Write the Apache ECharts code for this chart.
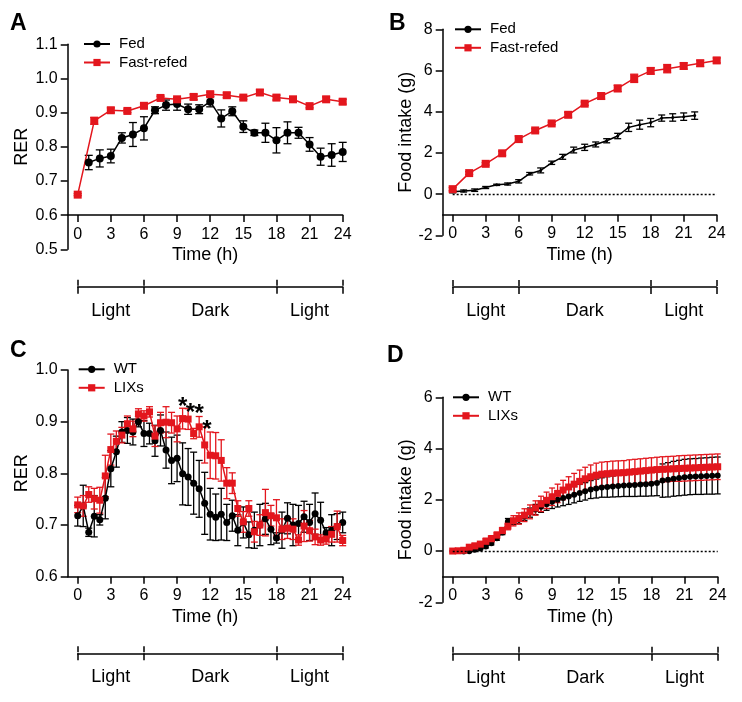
<!DOCTYPE html>
<html>
<head>
<meta charset="utf-8">
<script src="https://cdn.jsdelivr.net/npm/echarts@6/dist/echarts.min.js"></script>
<style>
  html, body { margin: 0; padding: 0; background: #fff; }
  #chart { width: 742px; height: 702px; }
</style>
</head>
<body>
<div id="chart"></div>
<script>
  const FONT = "Liberation Sans"
  const RED = "#e3161d"

  // tick / label values
  const timeTicks = [0, 3, 6, 9, 12, 15, 18, 21, 24]
  const ldTicks = [0, 6, 18, 24]
  const ldLabelHours = [3, 12, 21]
  const ldLabelNames = ["Light", "Dark", "Light"]

  // panel A: RER, fed vs fast-refed
  const hoursFedA = [1, 2, 3, 4, 5, 6, 7, 8, 9, 10, 11, 12, 13, 14, 15, 16, 17, 18, 19, 20, 21, 22, 23, 24]
  const rerFedA = [0.754, 0.766, 0.773, 0.826, 0.836, 0.854, 0.907, 0.922, 0.925, 0.910, 0.910, 0.932,
    0.883, 0.904, 0.859, 0.841, 0.841, 0.819, 0.841, 0.841, 0.807, 0.771, 0.776, 0.785]
  const rerFedErrA = [0.021, 0.025, 0.02, 0.015, 0.035, 0.034, 0.01, 0.015, 0.018, 0.015, 0.013, 0.015,
    0.025, 0.013, 0.017, 0.008, 0.028, 0.037, 0.032, 0.016, 0.02, 0.025, 0.033, 0.028]
  const hoursRefed = [0, 1.5, 3, 4.5, 6, 7.5, 9, 10.5, 12, 13.5, 15, 16.5, 18, 19.5, 21, 22.5, 24]
  const rerRefedA = [0.660, 0.876, 0.907, 0.905, 0.920, 0.943, 0.939, 0.946, 0.954, 0.951, 0.944, 0.959,
    0.944, 0.939, 0.919, 0.939, 0.932]
  const rerRefedErrA = [0.003, 0.01, 0.007, 0.005, 0.007, 0.005, 0.005, 0.008, 0.006, 0.007, 0.005, 0.008,
    0.007, 0.005, 0.005, 0.007, 0.007]

  // panel B: food intake, fed vs fast-refed
  const hoursFedB = [0, 1, 2, 3, 4, 5, 6, 7, 8, 9, 10, 11, 12, 13, 14, 15, 16, 17, 18, 19, 20, 21, 22]
  const intakeFedB = [0.11, 0.15, 0.19, 0.32, 0.45, 0.49, 0.62, 0.99, 1.15, 1.52, 1.81, 2.14, 2.27,
    2.41, 2.59, 2.82, 3.24, 3.37, 3.47, 3.69, 3.72, 3.76, 3.81]
  const intakeFedErrB = [0.05, 0.05, 0.06, 0.05, 0.03, 0.05, 0.08, 0.06, 0.12, 0.08, 0.12, 0.14, 0.15,
    0.12, 0.1, 0.13, 0.2, 0.22, 0.2, 0.15, 0.18, 0.18, 0.18]
  const intakeRefedB = [0.24, 1.02, 1.47, 1.98, 2.67, 3.09, 3.43, 3.85, 4.39, 4.76, 5.13, 5.62, 5.98,
    6.09, 6.22, 6.35, 6.49]
  const intakeRefedErrB = [0.08, 0.07, 0.06, 0.1, 0.15, 0.08, 0.06, 0.12, 0.08, 0.15, 0.15, 0.2, 0.15,
    0.2, 0.15, 0.15, 0.12]

  // panels C and D: half-hourly WT vs LIXs
  const halfHours = [0, 0.5, 1, 1.5, 2, 2.5, 3, 3.5, 4, 4.5, 5, 5.5, 6, 6.5, 7, 7.5, 8, 8.5, 9, 9.5,
    10, 10.5, 11, 11.5, 12, 12.5, 13, 13.5, 14, 14.5, 15, 15.5, 16, 16.5, 17, 17.5, 18, 18.5, 19, 19.5,
    20, 20.5, 21, 21.5, 22, 22.5, 23, 23.5, 24]
  const rerWT = [0.718, 0.737, 0.686, 0.717, 0.710, 0.752, 0.809, 0.842, 0.880, 0.883,
    0.880, 0.900, 0.877, 0.877, 0.863, 0.883, 0.845, 0.825, 0.829, 0.799,
    0.793, 0.781, 0.770, 0.742, 0.721, 0.715, 0.721, 0.705, 0.718, 0.690,
    0.705, 0.681, 0.690, 0.700, 0.712, 0.692, 0.675, 0.690, 0.713, 0.700,
    0.703, 0.716, 0.705, 0.722, 0.709, 0.685, 0.690, 0.697, 0.705]
  const rerWTErr = [0.02, 0.04, 0.008, 0.04, 0.01, 0.04, 0.035, 0.03, 0.02, 0.025,
    0.025, 0.01, 0.025, 0.02, 0.03, 0.03, 0.035, 0.045, 0.045, 0.06,
    0.055, 0.06, 0.055, 0.06, 0.05, 0.045, 0.05, 0.035, 0.03, 0.03,
    0.03, 0.025, 0.035, 0.04, 0.03, 0.03, 0.01, 0.035, 0.03, 0.04,
    0.035, 0.03, 0.035, 0.04, 0.035, 0.01, 0.03, 0.025, 0.02]
  const rerLIX = [0.739, 0.737, 0.759, 0.751, 0.748, 0.795, 0.846, 0.862, 0.874, 0.896,
    0.886, 0.915, 0.911, 0.919, 0.872, 0.898, 0.899, 0.898, 0.886, 0.906,
    0.905, 0.877, 0.890, 0.855, 0.835, 0.834, 0.825, 0.781, 0.781, 0.732,
    0.706, 0.732, 0.687, 0.700, 0.724, 0.718, 0.714, 0.692, 0.694, 0.692,
    0.671, 0.698, 0.689, 0.677, 0.671, 0.673, 0.682, 0.697, 0.670]
  const rerLIXErr = [0.015, 0.02, 0.015, 0.02, 0.025, 0.04, 0.03, 0.02, 0.015, 0.015,
    0.015, 0.01, 0.01, 0.01, 0.02, 0.02, 0.03, 0.02, 0.025, 0.02,
    0.02, 0.01, 0.02, 0.035, 0.045, 0.045, 0.04, 0.03, 0.02, 0.015,
    0.02, 0.015, 0.02, 0.02, 0.045, 0.02, 0.035, 0.02, 0.02, 0.02,
    0.01, 0.03, 0.02, 0.015, 0.01, 0.01, 0.015, 0.03, 0.01]
  const starHours = [9.5, 10.2, 11.0, 11.7]
  const starRER = [0.94, 0.927, 0.926, 0.894]

  const intakeWT = [0, 0, -0.02, -0.01, 0.05, 0.1, 0.18, 0.3, 0.5, 0.72,
    1.15, 1.15, 1.22, 1.35, 1.5, 1.62, 1.73, 1.83, 1.92, 2.0,
    2.07, 2.13, 2.2, 2.27, 2.33, 2.4, 2.44, 2.48, 2.5, 2.52,
    2.54, 2.56, 2.57, 2.58, 2.6, 2.61, 2.63, 2.66, 2.75, 2.78,
    2.82, 2.85, 2.88, 2.9, 2.91, 2.92, 2.93, 2.94, 2.95]
  const intakeWTErr = [0.02, 0.02, 0.03, 0.04, 0.05, 0.05, 0.06, 0.06, 0.08, 0.08,
    0.12, 0.12, 0.15, 0.15, 0.18, 0.2, 0.22, 0.24, 0.26, 0.28,
    0.3, 0.31, 0.32, 0.33, 0.34, 0.35, 0.37, 0.38, 0.4, 0.41,
    0.42, 0.43, 0.44, 0.45, 0.46, 0.47, 0.48, 0.5, 0.65, 0.67,
    0.68, 0.69, 0.7, 0.7, 0.7, 0.71, 0.71, 0.72, 0.72]
  const intakeLIX = [0, 0.01, 0.03, 0.15, 0.2, 0.27, 0.38, 0.48, 0.62, 0.8,
    0.97, 1.18, 1.27, 1.4, 1.53, 1.68, 1.84, 1.98, 2.12, 2.25,
    2.38, 2.5, 2.61, 2.72, 2.82, 2.9, 2.96, 3.0, 3.02, 3.04,
    3.05, 3.06, 3.08, 3.1, 3.12, 3.14, 3.16, 3.18, 3.19, 3.2,
    3.21, 3.22, 3.23, 3.24, 3.25, 3.26, 3.27, 3.28, 3.29]
  const intakeLIXErr = [0.03, 0.03, 0.04, 0.08, 0.1, 0.1, 0.12, 0.12, 0.12, 0.12,
    0.14, 0.2, 0.22, 0.25, 0.27, 0.28, 0.3, 0.32, 0.34, 0.36,
    0.38, 0.4, 0.42, 0.44, 0.45, 0.46, 0.47, 0.47, 0.47, 0.47,
    0.47, 0.47, 0.48, 0.48, 0.48, 0.48, 0.48, 0.48, 0.49, 0.49,
    0.49, 0.5, 0.5, 0.5, 0.5, 0.5, 0.5, 0.5, 0.5]

  const pts = (xs, ys) => xs.map((x, i) => [x, ys[i]])
  const errPts = (xs, ys, es) => xs.map((x, i) => [x, ys[i], es[i]])
  const txt = {color: "#000", fontFamily: FONT}
  const axisLine = {color: "#000", width: 1.5}

  function errSeries(name, idx, data, color, cap) {
    return {
      type: "custom", name: name, xAxisIndex: idx, yAxisIndex: idx, data: data, silent: true,
      encode: {x: 0, y: 1},
      renderItem: function (params, api) {
        let x = api.value(0), y = api.value(1), e = api.value(2)
        let hi = api.coord([x, y + e]), lo = api.coord([x, y - e])
        let s = {stroke: color, lineWidth: 1.3}
        return {
          type: "group", children: [
            {type: "line", shape: {x1: hi[0], y1: hi[1], x2: lo[0], y2: lo[1]}, style: s},
            {type: "line", shape: {x1: hi[0] - cap, y1: hi[1], x2: hi[0] + cap, y2: hi[1]}, style: s},
            {type: "line", shape: {x1: lo[0] - cap, y1: lo[1], x2: lo[0] + cap, y2: lo[1]}, style: s}
          ]
        }
      }
    }
  }

  function lineSeries(name, idx, data, color, symbol, size) {
    return {
      type: "line", name: name, xAxisIndex: idx, yAxisIndex: idx, data: data,
      symbol: symbol, symbolSize: size, showSymbol: true, silent: true,
      lineStyle: {color: color, width: 1.5}, itemStyle: {color: color}
    }
  }

  function timeAxis(grid, offset) {
    return {
      type: "value", gridIndex: grid, min: -0.906, max: 24, offset: offset,
      name: "Time (h)", nameLocation: "middle", nameGap: 31,
      nameTextStyle: {...txt, fontSize: 18},
      axisLine: {show: true, onZero: false, lineStyle: axisLine},
      axisTick: {show: true, length: 7, lineStyle: axisLine, customValues: timeTicks},
      axisLabel: {customValues: timeTicks, fontSize: 16, margin: 11, ...txt},
      splitLine: {show: false}
    }
  }

  function valueAxis(grid, min, max, interval, name, nameGap, digits) {
    return {
      type: "value", gridIndex: grid, min: min, max: max, interval: interval,
      name: name, nameLocation: "middle", nameGap: nameGap,
      nameTextStyle: {...txt, fontSize: 18},
      axisLine: {show: true, onZero: false, lineStyle: axisLine},
      axisTick: {show: true, length: 7, lineStyle: axisLine},
      axisLabel: {fontSize: 16, margin: 10, ...txt, formatter: v => v.toFixed(digits)},
      splitLine: {show: false}
    }
  }

  function ldAxes(grid) {
    return [{
      type: "value", gridIndex: grid, min: 0, max: 24, position: "bottom",
      axisLine: {show: true, lineStyle: axisLine},
      axisTick: {show: true, length: 7, lineStyle: axisLine, customValues: ldTicks},
      axisLabel: {customValues: ldLabelHours, fontSize: 18, margin: 15, ...txt,
        formatter: v => ldLabelNames[ldLabelHours.indexOf(v)]},
      splitLine: {show: false}
    }, {
      type: "value", gridIndex: grid, min: 0, max: 24, position: "top",
      axisLine: {show: false},
      axisTick: {show: true, length: 6, inside: false, lineStyle: axisLine, customValues: ldTicks},
      axisLabel: {show: false},
      splitLine: {show: false}
    }]
  }

  function legend(left, top, names) {
    return {
      orient: "vertical", left: left, top: top, padding: 0, itemGap: 0.5,
      itemWidth: 26, itemHeight: 9, selectedMode: false, data: names,
      formatter: name => name.split("|")[0],
      textStyle: {...txt, fontSize: 15, lineHeight: 18, padding: [0, 0, 0, 4]}
    }
  }

  function letter(text, left, top) {
    return {text: text, left: left, top: top, padding: 0,
      textStyle: {...txt, fontSize: 23, fontWeight: "bold"}}
  }

  const zeroLine = {
    silent: true, symbol: "none", label: {show: false},
    lineStyle: {color: "#000", width: 1.3, type: [2, 2]},
    data: [[{coord: [0, 0]}, {coord: [24, 0]}]]
  }

  let chart = echarts.init(document.getElementById("chart"))

  let fedB = lineSeries("Fed|B", 1, pts(hoursFedB, intakeFedB), "#000", "circle", 3)
  fedB.markLine = zeroLine
  let wtD = lineSeries("WT|D", 3, pts(halfHours, intakeWT), "#000", "circle", 6)
  wtD.markLine = zeroLine

  chart.setOption({
    animation: false,
    backgroundColor: "#fff",
    title: [letter("A", 10, 12), letter("B", 389, 12), letter("C", 10, 339), letter("D", 387, 344)],
    legend: [
      legend(83, 35, ["Fed|A", "Fast-refed|A"]),
      legend(454, 20.3, ["Fed|B", "Fast-refed|B"]),
      legend(77.7, 360.3, ["WT|C", "LIXs|C"]),
      legend(452, 388.3, ["WT|D", "LIXs|D"])
    ],
    grid: [
      {left: 67.7, top: 44.3, width: 275, height: 205, outerBoundsMode: "none"},
      {left: 442.7, top: 29.3, width: 274, height: 206, outerBoundsMode: "none"},
      {left: 67.7, top: 370, width: 275, height: 206.7, outerBoundsMode: "none"},
      {left: 442.7, top: 397.3, width: 275, height: 205, outerBoundsMode: "none"},
      {left: 77.7, top: 285.7, width: 265, height: 1, outerBoundsMode: "none"},
      {left: 452.7, top: 286, width: 264, height: 1, outerBoundsMode: "none"},
      {left: 77.7, top: 652.3, width: 265, height: 1, outerBoundsMode: "none"},
      {left: 452.7, top: 652.7, width: 265, height: 1, outerBoundsMode: "none"}
    ],
    xAxis: [
      timeAxis(0, -34.2), timeAxis(1, -20.6), timeAxis(2, 0), timeAxis(3, -25.6),
      ...ldAxes(4), ...ldAxes(5), ...ldAxes(6), ...ldAxes(7)
    ],
    yAxis: [
      valueAxis(0, 0.5, 1.1, 0.1, "RER", 37, 1),
      valueAxis(1, -2, 8, 2, "Food intake (g)", 27, 0),
      valueAxis(2, 0.6, 1.0, 0.1, "RER", 37, 1),
      valueAxis(3, -2, 6, 2, "Food intake (g)", 27, 0),
      {gridIndex: 4, show: false, min: 0, max: 1},
      {gridIndex: 5, show: false, min: 0, max: 1},
      {gridIndex: 6, show: false, min: 0, max: 1},
      {gridIndex: 7, show: false, min: 0, max: 1}
    ],
    series: [
      // A
      errSeries("Fed|A err", 0, errPts(hoursFedA, rerFedA, rerFedErrA), "#000", 4),
      lineSeries("Fed|A", 0, pts(hoursFedA, rerFedA), "#000", "circle", 8),
      errSeries("Fast-refed|A err", 0, errPts(hoursRefed, rerRefedA, rerRefedErrA), RED, 4),
      lineSeries("Fast-refed|A", 0, pts(hoursRefed, rerRefedA), RED, "rect", 8),
      // B
      errSeries("Fed|B err", 1, errPts(hoursFedB, intakeFedB, intakeFedErrB), "#000", 3.5),
      fedB,
      errSeries("Fast-refed|B err", 1, errPts(hoursRefed, intakeRefedB, intakeRefedErrB), RED, 4),
      lineSeries("Fast-refed|B", 1, pts(hoursRefed, intakeRefedB), RED, "rect", 8),
      // C
      errSeries("WT|C err", 2, errPts(halfHours, rerWT, rerWTErr), "#000", 3.5),
      lineSeries("WT|C", 2, pts(halfHours, rerWT), "#000", "circle", 7),
      errSeries("LIXs|C err", 2, errPts(halfHours, rerLIX, rerLIXErr), RED, 3.5),
      lineSeries("LIXs|C", 2, pts(halfHours, rerLIX), RED, "rect", 7),
      {
        type: "scatter", xAxisIndex: 2, yAxisIndex: 2, data: pts(starHours, starRER),
        symbol: "circle", symbolSize: 2, itemStyle: {color: "rgba(0,0,0,0)"}, silent: true, z: 5,
        label: {show: true, position: "inside", formatter: "*", offset: [0, 6],
          fontSize: 24, fontWeight: "bold", color: "#000", fontFamily: FONT,
          textBorderWidth: 0, opacity: 1}
      },
      // D
      errSeries("WT|D err", 3, errPts(halfHours, intakeWT, intakeWTErr), "#000", 3),
      wtD,
      errSeries("LIXs|D err", 3, errPts(halfHours, intakeLIX, intakeLIXErr), RED, 3),
      lineSeries("LIXs|D", 3, pts(halfHours, intakeLIX), RED, "rect", 7)
    ]
  })
</script>
</body>
</html>
